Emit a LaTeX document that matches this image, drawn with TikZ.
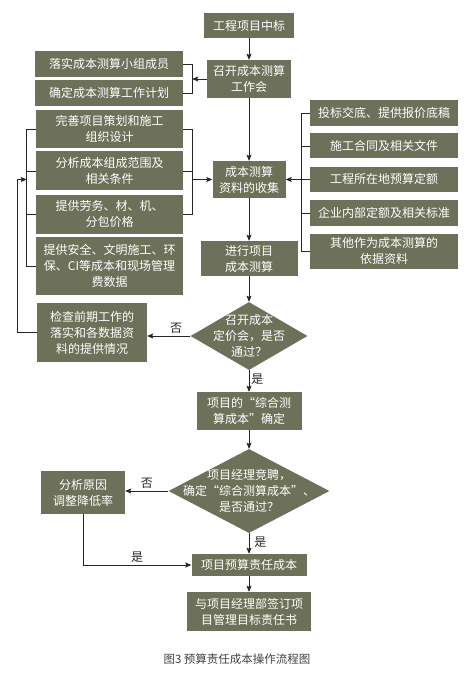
\documentclass[tikz,border=0pt]{standalone}
\usepackage{fontspec}
\newfontfamily\cjk{Noto Sans CJK SC}
\usepackage{xcolor}
\usepackage{tikz}
\usetikzlibrary{arrows.meta,positioning,calc,shapes.geometric}
\definecolor{boxgray}{RGB}{110,113,89}
\tikzset{
  proc/.style={fill=boxgray, text=white, inner sep=2pt, align=center,
    font=\cjk\fontsize{12}{16}\selectfont},
  dec/.style={proc, shape=diamond, inner sep=-30pt},
  lbl/.style={font=\cjk\fontsize{12}{14}\selectfont, inner sep=2pt},
  flow/.style={-{Stealth[length=6pt,width=5pt,inset=1pt]}, line width=0.8pt, black!85},
  tie/.style={line width=0.8pt, black!85}
}

\begin{document}
\begin{tikzpicture}[x=1pt, y=1pt]
  \useasboundingbox (0,0) rectangle (466,-683);

  % main column
  \node[proc, minimum width=90pt, minimum height=25pt] (win) at (249,-25.5) {工程项目中标};
  \node[proc, minimum width=84pt, minimum height=38pt] (meet) at (249,-79) {召开成本测算\\工作会};
  \node[proc, minimum width=73pt, minimum height=37pt] (collect) at (249,-179.5) {成本测算\\资料的收集};
  \node[proc, minimum width=97pt, minimum height=35pt] (calc) at (249,-258.5) {进行项目\\成本测算};
  \node[dec, minimum width=117pt, minimum height=68pt] (d1) at (249,-336) {召开成本\\定价会，是否\\通过？};
  \node[proc, minimum width=105pt, minimum height=38pt] (confirm) at (249,-411) {项目的“综合测\\算成本”确定};
  \node[dec, minimum width=161pt, minimum height=84pt] (d2) at (249,-491) {项目经理竞聘，\\确定“综合测算成本”、\\是否通过？};
  \node[proc, minimum width=115pt, minimum height=22pt] (budget) at (249,-565) {项目预算责任成本};
  \node[proc, minimum width=124pt, minimum height=39pt] (sign) at (249,-611.5) {与项目经理部签订项\\目管理目标责任书};

  % team tasks
  \node[proc, minimum width=148pt, minimum height=26pt] (l1) at (109,-64) {落实成本测算小组成员};
  \node[proc, minimum width=148pt, minimum height=26pt, below=3pt of l1] (l2) {确定成本测算工作计划};

  % inputs, left
  \node[proc, minimum width=147pt, minimum height=38pt] (c1) at (109.5,-129) {完善项目策划和施工\\组织设计};
  \node[proc, minimum width=147pt, minimum height=39pt, below=3pt of c1] (c2) {分析成本组成范围及\\相关条件};
  \node[proc, minimum width=147pt, minimum height=39pt, below=4pt of c2] (c3) {提供劳务、材、机、\\分包价格};
  \node[proc, minimum width=147pt, minimum height=58pt, below=3pt of c3] (c4) {提供安全、文明施工、环\\保、CI等成本和现场管理\\费数据};

  % inputs, right
  \node[proc, minimum width=148pt, minimum height=26pt] (r1) at (384,-113) {投标交底、提供报价底稿};
  \node[proc, minimum width=148pt, minimum height=25pt, below=7pt of r1] (r2) {施工合同及相关文件};
  \node[proc, minimum width=148pt, minimum height=25pt, below=8pt of r2] (r3) {工程所在地预算定额};
  \node[proc, minimum width=148pt, minimum height=26pt, below=8pt of r3] (r4) {企业内部定额及相关标准};
  \node[proc, minimum width=148pt, minimum height=35pt, below=7pt of r4] (r5) {其他作为成本测算的\\依据资料};

  % side boxes
  \node[proc, minimum width=110pt, minimum height=59pt] (check) at (92,-332.5) {检查前期工作的\\落实和各数据资\\料的提供情况};
  \node[proc, minimum width=84pt, minimum height=43pt] (reason) at (83,-492.5) {分析原因\\调整降低率};

  % joints of the brackets
  \coordinate (mj) at ($(l1.east |- meet.west)+(9,0)$);
  \coordinate (lj) at ($(c1.east |- collect.west)+(9,0)$);
  \coordinate (lk) at ($(c1.west |- collect.west)+(-9,0)$);
  \coordinate (rj) at ($(r1.west |- collect.east)+(-8,0)$);

  \draw[tie] (l1.east) -- ++(9,0) |- (l2.east);
  \draw[tie] (c1.east) -- ++(9,0) |- (c3.east);
  \draw[tie] (c2.east) -- ++(9,0);
  \draw[tie] (c1.west) -- ++(-9,0) |- (c4.west);
  \draw[tie] (c2.west) -- ++(-9,0);
  \draw[tie] (c3.west) -- ++(-9,0);
  \draw[tie] (r1.west) -- ++(-8,0) |- (r5.west);
  \foreach \r in {r2,r3,r4}
    \draw[tie] (\r.west) -- ++(-8,0);

  % flow
  \draw[flow] (win) -- (meet);
  \draw[flow] (meet.west) -- (mj);
  \draw[flow] (meet) -- (collect);
  \draw[flow] (lj) -- (collect.west);
  \draw[flow] (rj) -- (collect.east);
  \draw[flow] (collect) -- (calc);
  \draw[flow] (calc) -- (d1);
  \draw[flow] (d1.west) -- (d1.west -| check.east) node[lbl, above, pos=0.33] {否};
  \draw[flow] (check.west) -- ++(-19,0) |- (lk);
  \draw[flow] (d1) -- node[lbl, right, pos=0.4] {是} (confirm);
  \draw[flow] (confirm) -- (d2);
  \draw[flow] (d2.west) -- (d2.west -| reason.east) node[lbl, above, pos=0.5] {否};
  \draw[flow] (d2) -- node[lbl, right, pos=0.45, xshift=3pt] {是} (budget);
  \draw[flow] (reason.south) |- (budget.west) node[lbl, above, pos=0.75] {是};
  \draw[flow] (budget) -- (sign);

  \node[font=\cjk\fontsize{11.5}{14}\selectfont, text=black!75] (cap) at (237,-659) {图3 预算责任成本操作流程图};
\end{tikzpicture}
\end{document}
